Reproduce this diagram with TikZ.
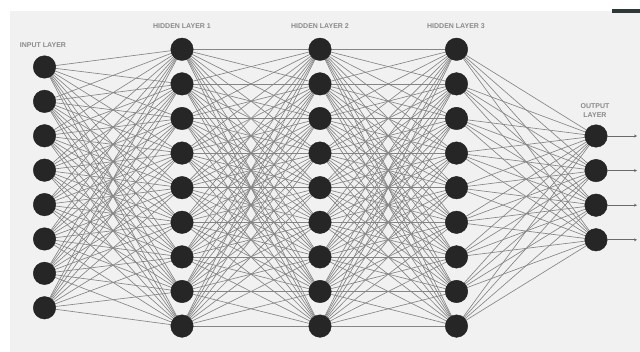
\documentclass[tikz,border=0pt]{standalone}
\usepackage{fontspec}
\setmainfont{Liberation Sans}
\usetikzlibrary{arrows.meta,backgrounds}
\definecolor{bgcol}{HTML}{F1F1F1}
\definecolor{nodecol}{HTML}{262626}
\definecolor{edgecol}{HTML}{858585}
\definecolor{lblcol}{HTML}{8A8A8A}
\definecolor{barcol}{HTML}{2C3838}
\begin{document}
\begin{tikzpicture}[x=1pt,y=-1pt,
  neuron/.style={circle,fill=nodecol,draw=nodecol!85!black,line width=0.4pt,minimum size=22.5pt,inner sep=0pt},
  edge/.style={draw=edgecol,line width=0.65pt},
  outarrow/.style={draw=edgecol!80!black,line width=0.65pt,-{Stealth[length=3pt,width=3pt]}},
  lbl/.style={text=lblcol,font=\fontsize{7}{8}\selectfont\bfseries,inner sep=0pt,align=center}]
\useasboundingbox (0,0) rectangle (640,352);
% nodes
\foreach \i in {1,...,8} \node[neuron] (in\i) at (44.5,{67+34.4*(\i-1)}) {};
\foreach \i in {1,...,9} {
  \node[neuron] (ha\i) at (182,{49.3+34.6*(\i-1)}) {};
  \node[neuron] (hb\i) at (320,{49.3+34.6*(\i-1)}) {};
  \node[neuron] (hc\i) at (456.5,{49.3+34.6*(\i-1)}) {};
}
\foreach \i in {1,...,4} {
  \node[neuron] (out\i) at (596,{136+34.6*(\i-1)}) {};
  \coordinate (tip\i) at (637,{136+34.6*(\i-1)});
  \draw[outarrow] (out\i) -- (tip\i);
}
% labels
\node[lbl] (linput) at (43,45) {INPUT LAYER};
\node[lbl] (lh1) at (182,26) {HIDDEN LAYER 1};
\node[lbl] (lh2) at (320,26) {HIDDEN LAYER 2};
\node[lbl] (lh3) at (456,26) {HIDDEN LAYER 3};
\node[lbl] (lout) at (595,111) {OUTPUT\\[1pt]LAYER};
% background and edges
\begin{scope}[on background layer]
  \fill[white] (0,0) rectangle (640,352);
  \fill[bgcol] (10,11) rectangle (640,352);
  \fill[barcol] (612,9) rectangle (640,13);
  \foreach \i in {1,...,8} \foreach \j in {1,...,9} \draw[edge] (in\i.center) -- (ha\j.center);
  \foreach \i in {1,...,9} \foreach \j in {1,...,9} {
    \draw[edge] (ha\i.center) -- (hb\j.center);
    \draw[edge] (hb\i.center) -- (hc\j.center);
  }
  \foreach \i in {1,...,9} \foreach \j in {1,...,4} \draw[edge] (hc\i.center) -- (out\j.center);
\end{scope}
\end{tikzpicture}
\end{document}
